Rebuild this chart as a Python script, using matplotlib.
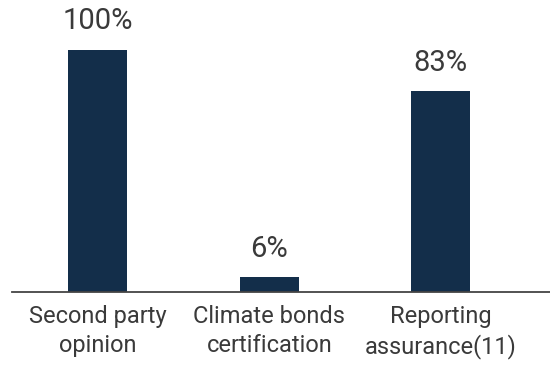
import matplotlib.pyplot as plt

categories = ['Second party\nopinion', 'Climate bonds\ncertification', 'Reporting\nassurance(11)']
values = [100, 6, 83]
value_labels = ['100%', '6%', '83%']

bar_color = '#132e4a'
text_color = '#3a3a3a'

plt.rcParams['font.family'] = ['Roboto', 'DejaVu Sans']

fig = plt.figure(figsize=(5.5, 3.65), dpi=100)
ax = fig.add_axes([12 / 550, 73.5 / 365, 538 / 550, 291.5 / 365])

x = list(range(len(categories)))
bars = ax.bar(x, values, width=0.344, color=bar_color)

for xi, v, lab in zip(x, values, value_labels):
    ax.annotate(lab, (xi, v), xytext=(0, 14.5), textcoords='offset points',
                ha='center', va='baseline', fontsize=21, color=text_color)

ax.set_xlim(-0.5, 2.637)
ax.set_ylim(0, 120.5)
ax.set_xticks(x)
ax.set_xticklabels(categories, fontsize=17, color=text_color, linespacing=1.3)
ax.tick_params(axis='x', length=0, pad=10)
ax.set_yticks([])

for s in ['top', 'right', 'left']:
    ax.spines[s].set_visible(False)
ax.spines['bottom'].set_color('#444444')
ax.spines['bottom'].set_linewidth(1.3)

fig.savefig('out.png', dpi=100)
